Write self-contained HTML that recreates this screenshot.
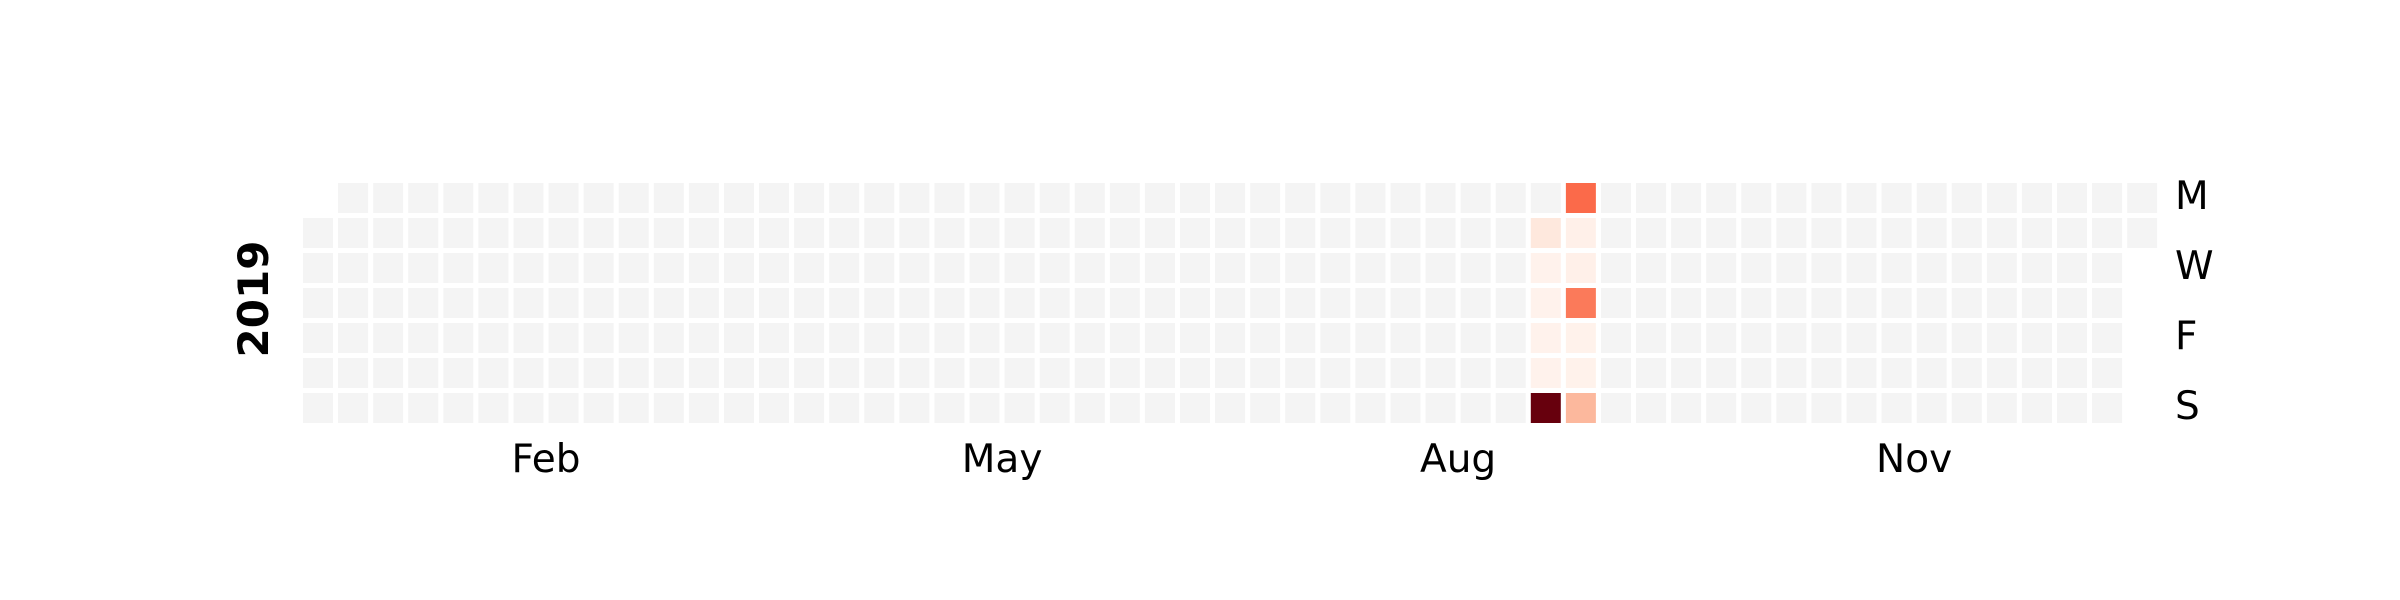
<!DOCTYPE html>
<html><head><meta charset="utf-8">
<style>
html,body{margin:0;padding:0;background:#fff;}
svg{display:block;}
text{font-family:"DejaVu Sans","Liberation Sans",sans-serif;fill:#000;}
</style></head>
<body>
<svg id="chart" width="2400" height="600" viewBox="0 0 2400 600" xmlns="http://www.w3.org/2000/svg">
  <g id="cells"></g>
  <g id="labels"></g>
  <text x="0" y="0" font-size="42" font-weight="bold" text-anchor="middle" transform="translate(268,299) rotate(-90)">2019</text>
</svg>
<script>
// Data: day-of-year index (0 = Jan 1 2019) and values (0-100)
const dayIndex = [245, 246, 247, 248, 249, 250, 251, 252, 253, 254, 255, 256, 257];
const dayValue = [8, 1.5, 1.5, 1.5, 1.5, 100, 50, 3, 3, 45, 2, 2, 26];
const monthLabels = ["Feb", "May", "Aug", "Nov"];
const monthWeek = [6.5, 19.5, 32.5, 45.5];
const dayLabels = ["M", "W", "F", "S"];
const dayLabelRow = [0, 2, 4, 6];
const year = 2019;

const x0 = 303, y0 = 183, pitchX = 35.08, pitchY = 35, cell = 30;
const startDow = 1; // Jan 1 2019 = Tuesday (Mon=0)
const daysInYear = 365;
const reds = ["#fff5f0","#fee0d2","#fcbba1","#fc9272","#fb6a4a","#ef3b2c","#cb181d","#a50f15","#67000d"];
function hex(c){return [1,3,5].map(i=>parseInt(c.substr(i,2),16));}
function cmap(t){
  t=Math.max(0,Math.min(1,t));
  const p=t*(reds.length-1), i=Math.min(Math.floor(p),reds.length-2), f=p-i;
  const a=hex(reds[i]), b=hex(reds[i+1]);
  return "rgb("+a.map((v,k)=>Math.round(v+(b[k]-v)*f)).join(",")+")";
}
const vmax = Math.max(...dayValue), vmin = 0;
function xCol(w){return x0 + w*pitchX;}
function yRow(r){return y0 + r*pitchY;}
const ns="http://www.w3.org/2000/svg";
const gc=document.getElementById("cells");
const valMap={};
dayIndex.forEach((d,i)=>valMap[d]=dayValue[i]);
for(let d=0; d<daysInYear; d++){
  const pos=d+startDow, w=Math.floor(pos/7), r=pos%7;
  const rect=document.createElementNS(ns,"rect");
  
  
  rect.setAttribute("x",xCol(w).toFixed(2));
  rect.setAttribute("y",yRow(r));
  rect.setAttribute("width",cell);
  rect.setAttribute("height",cell);
  rect.setAttribute("fill", d in valMap ? cmap((valMap[d]-vmin)/(vmax-vmin)) : "#f4f4f4");
  gc.appendChild(rect);
}
const gl=document.getElementById("labels");
monthLabels.forEach((m,i)=>{
  const t=document.createElementNS(ns,"text");
  
  
  t.setAttribute("x",(xCol(monthWeek[i])+cell/2).toFixed(1));
  t.setAttribute("y",472);
  t.setAttribute("font-size",39);
  t.setAttribute("text-anchor","middle");
  t.textContent=m;
  gl.appendChild(t);
});
dayLabels.forEach((m,i)=>{
  const t=document.createElementNS(ns,"text");
  
  
  t.setAttribute("x",2175);
  t.setAttribute("y",yRow(dayLabelRow[i])+cell/2+11);
  t.setAttribute("font-size",39);
  t.textContent=m;
  gl.appendChild(t);
});
</script>
</body></html>
